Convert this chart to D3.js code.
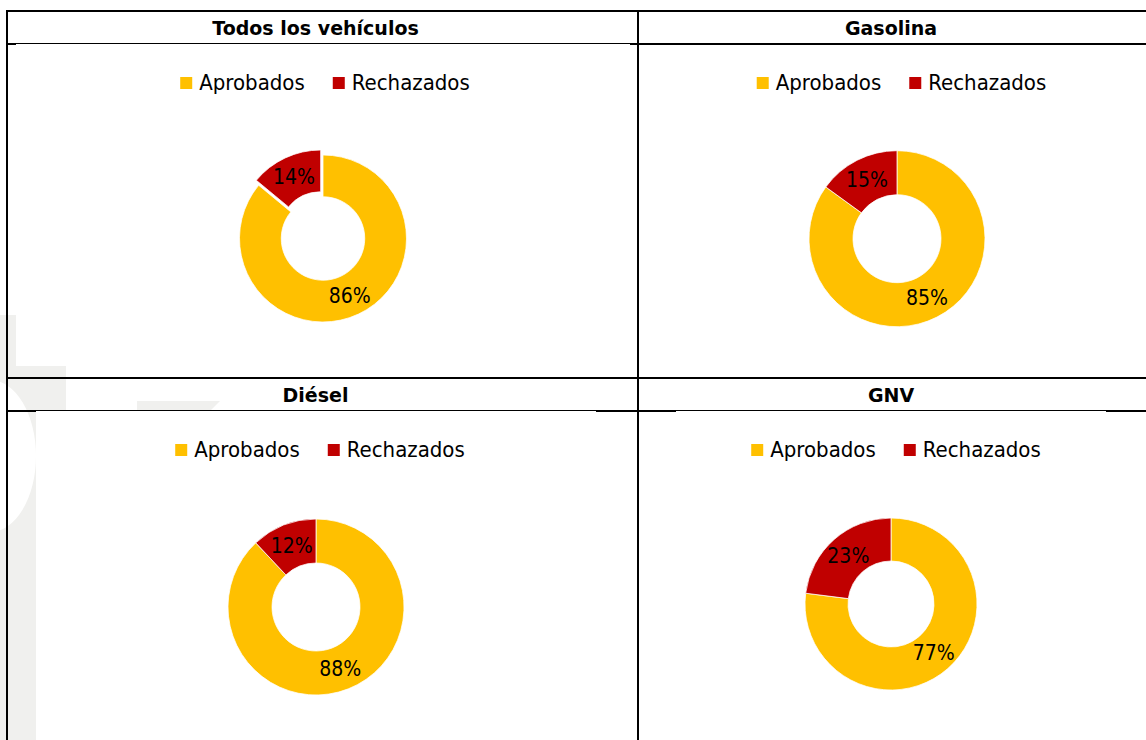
<!DOCTYPE html>
<html>
<head>
<meta charset="utf-8">
<script src="https://cdn.jsdelivr.net/npm/d3@7"></script>
<style>
  body { margin: 0; background: #fff; }
  svg { display: block; }
</style>
</head>
<body>
<div id="chart"></div>
<script>
const panelTitles = ['Todos los vehículos', 'Gasolina', 'Diésel', 'GNV'];
const categories = ['Aprobados', 'Rechazados'];
const aprobados = [86, 85, 88, 77];
const rechazados = [14, 15, 12, 23];
const colors = ['#FFC000', '#C00000'];

const width = 1146;
const height = 740;

// table geometry
const tableLeft = 7;
const colSplit = 638;
const tableRight = 1158;
const rowTops = [11, 378];
const headerH = 33;

// chart area inside each cell (x, width), pie placement relative to row top
const panels = [
  { x: 16, w: 614, dy: 0, bottom: 366, cy: 227.5, r: 83.5, explode: 5.5, legendShift: 2 },
  { x: 682, w: 430, dy: 2, bottom: 366, cy: 227.7, r: 88, explode: 0, legendShift: 4.5 },
  { x: 36, w: 560, dy: 0, bottom: 760, cy: 229, r: 88, explode: 0, legendShift: 4 },
  { x: 676, w: 430, dy: 0, bottom: 760, cy: 226, r: 86, explode: 0, legendShift: 5 }
];

const legendFont = 'DejaVu Sans Condensed, DejaVu Sans, sans-serif';

const svg = d3.select('#chart')
  .append('svg')
  .attr('width', width)
  .attr('height', height);

// faint watermark behind the table
const mark = svg.append('g').attr('fill', '#f0f0ee');
mark.append('rect').attr('x', 0).attr('y', 315).attr('width', 36).attr('height', 425);
mark.append('rect').attr('x', 16).attr('y', 366).attr('width', 50).attr('height', 46);
mark.append('path').attr('d', 'M137,401 L220,401 L209,412 L137,412 Z');
mark.append('ellipse')
  .attr('cx', -10).attr('cy', 456).attr('rx', 46).attr('ry', 76)
  .attr('fill', '#fff');

// table borders
const lines = svg.append('g').attr('stroke', '#000').attr('stroke-width', 2);
lines.append('line').attr('x1', tableLeft - 1).attr('x2', tableRight).attr('y1', 11).attr('y2', 11);
lines.append('line').attr('x1', tableLeft).attr('x2', tableLeft).attr('y1', 10).attr('y2', height);
lines.append('line').attr('x1', colSplit).attr('x2', colSplit).attr('y1', 10).attr('y2', height);
rowTops.forEach(top => {
  if (top > 11) {
    lines.append('line').attr('x1', tableLeft).attr('x2', tableRight).attr('y1', top).attr('y2', top);
  }
  lines.append('line')
    .attr('x1', tableLeft).attr('x2', tableRight)
    .attr('y1', top + headerH).attr('y2', top + headerH);
});

const pie = d3.pie().sort(null).value(d => d.value);

panelTitles.forEach((title, i) => {
  const col = i % 2;
  const row = Math.floor(i / 2);
  const top = rowTops[row];
  const p = panels[i];
  const colLeft = col === 0 ? tableLeft : colSplit;
  const colRight = col === 0 ? colSplit : tableRight;

  // header
  svg.append('text')
    .attr('x', (colLeft + colRight) / 2 - 7)
    .attr('y', top + 24)
    .attr('text-anchor', 'middle')
    .attr('font-family', 'DejaVu Sans, Verdana, sans-serif')
    .attr('font-weight', 'bold')
    .attr('font-size', 19)
    .attr('fill', '#000')
    .text(title);

  // chart area (covers half of the header rule)
  const areaTop = top + headerH + p.dy;
  svg.append('rect')
    .attr('x', p.x)
    .attr('y', areaTop)
    .attr('width', p.w)
    .attr('height', Math.min(p.bottom, height) - areaTop)
    .attr('fill', '#fff');

  const cx = p.x + p.w / 2;
  const data = [
    { name: categories[0], value: aprobados[i] },
    { name: categories[1], value: rechazados[i] }
  ];
  const arcs = pie(data);
  const arc = d3.arc().innerRadius(p.r * 0.5).outerRadius(p.r);

  const g = svg.append('g')
    .attr('transform', `translate(${cx}, ${top + p.cy})`);

  const shift = (d, k) => {
    if (k !== 1 || !p.explode) return [0, 0];
    const a = (d.startAngle + d.endAngle) / 2;
    return [Math.sin(a) * p.explode, -Math.cos(a) * p.explode];
  };

  g.selectAll('path')
    .data(arcs)
    .join('path')
    .attr('d', arc)
    .attr('transform', (d, k) => `translate(${shift(d, k)})`)
    .attr('fill', (d, k) => colors[k])
    .attr('stroke', '#fff')
    .attr('stroke-width', 0.75);

  g.selectAll('.value-label')
    .data(arcs)
    .join('text')
    .attr('class', 'value-label')
    .attr('text-anchor', 'middle')
    .attr('dy', '0.36em')
    .attr('font-family', 'Liberation Sans Narrow, DejaVu Sans Condensed, sans-serif')
    .attr('font-size', 21)
    .attr('fill', '#000')
    .attr('transform', (d, k) => {
      const [c0, c1] = arc.centroid(d);
      const [s0, s1] = shift(d, k);
      return `translate(${c0 + s0}, ${c1 + s1})`;
    })
    .text(d => `${d.data.value}%`);

  // legend
  const legend = svg.append('g');
  const items = legend.selectAll('g')
    .data(categories)
    .join('g');
  items.append('rect')
    .attr('width', 12)
    .attr('height', 12)
    .attr('y', top + 66)
    .attr('fill', (d, k) => colors[k]);
  items.append('text')
    .attr('x', 19)
    .attr('y', top + 78.5)
    .attr('font-family', legendFont)
    .attr('font-size', 22)
    .attr('fill', '#000')
    .text(d => d);

  let offset = 0;
  const starts = [];
  items.each(function () {
    const w = 19 + d3.select(this).select('text').node().getComputedTextLength();
    starts.push(offset);
    offset += w + 28;
  });
  const total = offset - 28;
  const startX = cx + p.legendShift - total / 2;
  items.attr('transform', (d, k) => `translate(${startX + starts[k]}, 0)`);
});
</script>
</body>
</html>
